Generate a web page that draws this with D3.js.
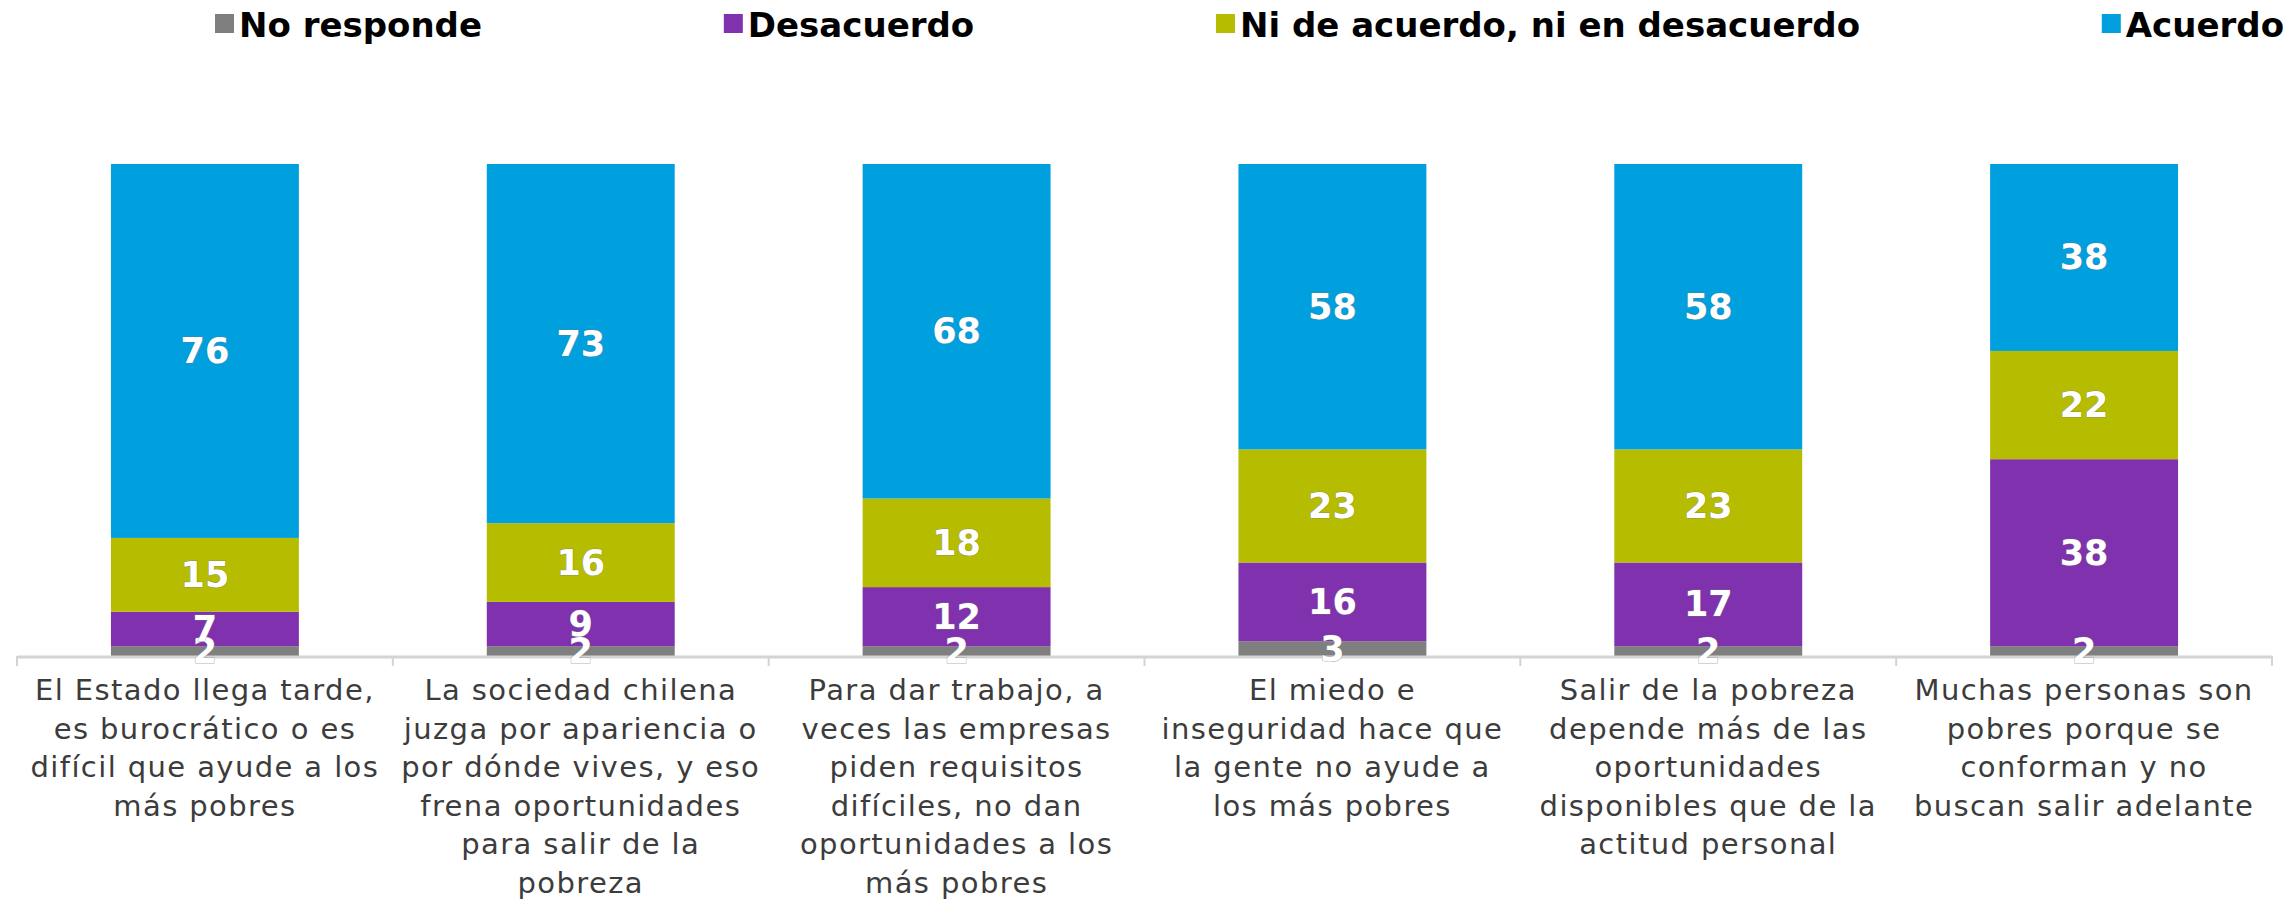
<!DOCTYPE html>
<html>
<head>
<meta charset="utf-8">
<script src="https://cdn.jsdelivr.net/npm/d3@7"></script>
<style>
  body { margin: 0; background: #fff; }
</style>
</head>
<body>
<script>
// categories (line breaks as in the original)
var categories = [
  ["El Estado llega tarde,", "es burocrático o es", "difícil que ayude a los", "más pobres"],
  ["La sociedad chilena", "juzga por apariencia o", "por dónde vives, y eso", "frena oportunidades", "para salir de la", "pobreza"],
  ["Para dar trabajo, a", "veces las empresas", "piden requisitos", "difíciles, no dan", "oportunidades a los", "más pobres"],
  ["El miedo e", "inseguridad hace que", "la gente no ayude a", "los más pobres"],
  ["Salir de la pobreza", "depende más de las", "oportunidades", "disponibles que de la", "actitud personal"],
  ["Muchas personas son", "pobres porque se", "conforman y no", "buscan salir adelante"]
];

var seriesNames = ["No responde", "Desacuerdo", "Ni de acuerdo, ni en desacuerdo", "Acuerdo"];
var seriesColors = ["#7f7f7f", "#8031ad", "#b6bd00", "#00a0df"];

var noResponde = [2, 2, 2, 3, 2, 2];
var desacuerdo = [7, 9, 12, 16, 17, 38];
var niNi = [15, 16, 18, 23, 23, 22];
var acuerdo = [76, 73, 68, 58, 58, 38];

var series = [noResponde, desacuerdo, niNi, acuerdo];

var width = 2290, height = 900;
var axisY = 656, topY = 164;

var svg = d3.select('body').append('svg')
  .attr('width', width)
  .attr('height', height);

var x = d3.scaleBand()
  .domain(d3.range(categories.length))
  .range([17, 2272])
  .padding(0);

var y = d3.scaleLinear()
  .domain([0, 100])
  .range([axisY, topY]);

// stacked data
var rows = categories.map(function(c, i) {
  var row = { i: i };
  seriesNames.forEach(function(s, k) { row[s] = series[k][i]; });
  return row;
});
var stacked = d3.stack().keys(seriesNames)(rows);

var barW = x.bandwidth() * 0.5;

var layers = svg.append('g')
  .selectAll('g')
  .data(stacked)
  .enter()
  .append('g')
  .attr('fill', function(d, k) { return seriesColors[k]; });

layers.selectAll('rect')
  .data(function(d) { return d; })
  .enter()
  .append('rect')
  .attr('x', function(d) { return x(d.data.i) + (x.bandwidth() - barW) / 2; })
  .attr('y', function(d) { return y(d[1]); })
  .attr('width', barW)
  .attr('height', function(d) { return y(d[0]) - y(d[1]); });

// axis line and boundary ticks
var axis = svg.append('g');
axis.append('line')
  .attr('x1', x.range()[0])
  .attr('x2', x.range()[1])
  .attr('y1', axisY + 1)
  .attr('y2', axisY + 1)
  .attr('stroke', '#d4d4d4')
  .attr('stroke-width', 3);

var bounds = d3.range(categories.length).map(function(i) { return x(i); });
bounds.push(x.range()[1]);
axis.selectAll('line.tick')
  .data(bounds)
  .enter()
  .append('line')
  .attr('class', 'tick')
  .attr('x1', function(d) { return d; })
  .attr('x2', function(d) { return d; })
  .attr('y1', axisY)
  .attr('y2', axisY + 10)
  .attr('stroke', '#d4d4d4')
  .attr('stroke-width', 2);

// value labels, drawn on top of every bar and the axis
var labelLayers = svg.append('g')
  .selectAll('g')
  .data(stacked)
  .enter()
  .append('g');

labelLayers.selectAll('text')
  .data(function(d) { return d; })
  .enter()
  .append('text')
  .attr('x', function(d) { return x(d.data.i) + x.bandwidth() / 2; })
  .attr('y', function(d) { return (y(d[0]) + y(d[1])) / 2; })
  .attr('text-anchor', 'middle')
  .attr('dominant-baseline', 'central')
  .attr('font-family', 'DejaVu Sans')
  .attr('font-weight', 'bold')
  .attr('font-size', '35px')
  .attr('fill', '#fff')
  .attr('stroke', 'rgba(120,120,120,0.6)')
  .attr('stroke-width', 1)
  .attr('paint-order', 'stroke')
  .text(function(d) { return d[1] - d[0]; });

// category labels
var catText = svg.append('g')
  .selectAll('text')
  .data(categories)
  .enter()
  .append('text')
  .attr('text-anchor', 'middle')
  .attr('font-family', 'DejaVu Sans')
  .attr('font-size', '29px')
  .attr('letter-spacing', '1.4px')
  .attr('fill', '#3c3c3c');

catText.selectAll('tspan')
  .data(function(d, i) { return d.map(function(t) { return { t: t, i: i }; }); })
  .enter()
  .append('tspan')
  .attr('x', function(d) { return x(d.i) + x.bandwidth() / 2; })
  .attr('y', function(d, j) { return axisY + 44 + j * 38.5; })
  .text(function(d) { return d.t; });

// legend
var legend = svg.append('g');
var items = legend.selectAll('g')
  .data(seriesNames)
  .enter()
  .append('g');

items.append('rect')
  .attr('width', 19)
  .attr('height', 19)
  .attr('y', 14)
  .attr('fill', function(d, k) { return seriesColors[k]; });

items.append('text')
  .attr('x', 24)
  .attr('y', 37)
  .attr('font-family', 'DejaVu Sans')
  .attr('font-weight', 'bold')
  .attr('font-size', '34px')
  .attr('fill', '#000')
  .text(function(d) { return d; });

// spread legend items between left and right edges
var widths = [];
items.each(function() { widths.push(this.getBBox().width); });
var legLeft = 215, legRight = 2284;
var gap = (legRight - legLeft - d3.sum(widths)) / (widths.length - 1);
var pos = legLeft;
items.attr('transform', function(d, k) {
  var t = 'translate(' + pos + ',0)';
  pos += widths[k] + gap;
  return t;
});
</script>
</body>
</html>
